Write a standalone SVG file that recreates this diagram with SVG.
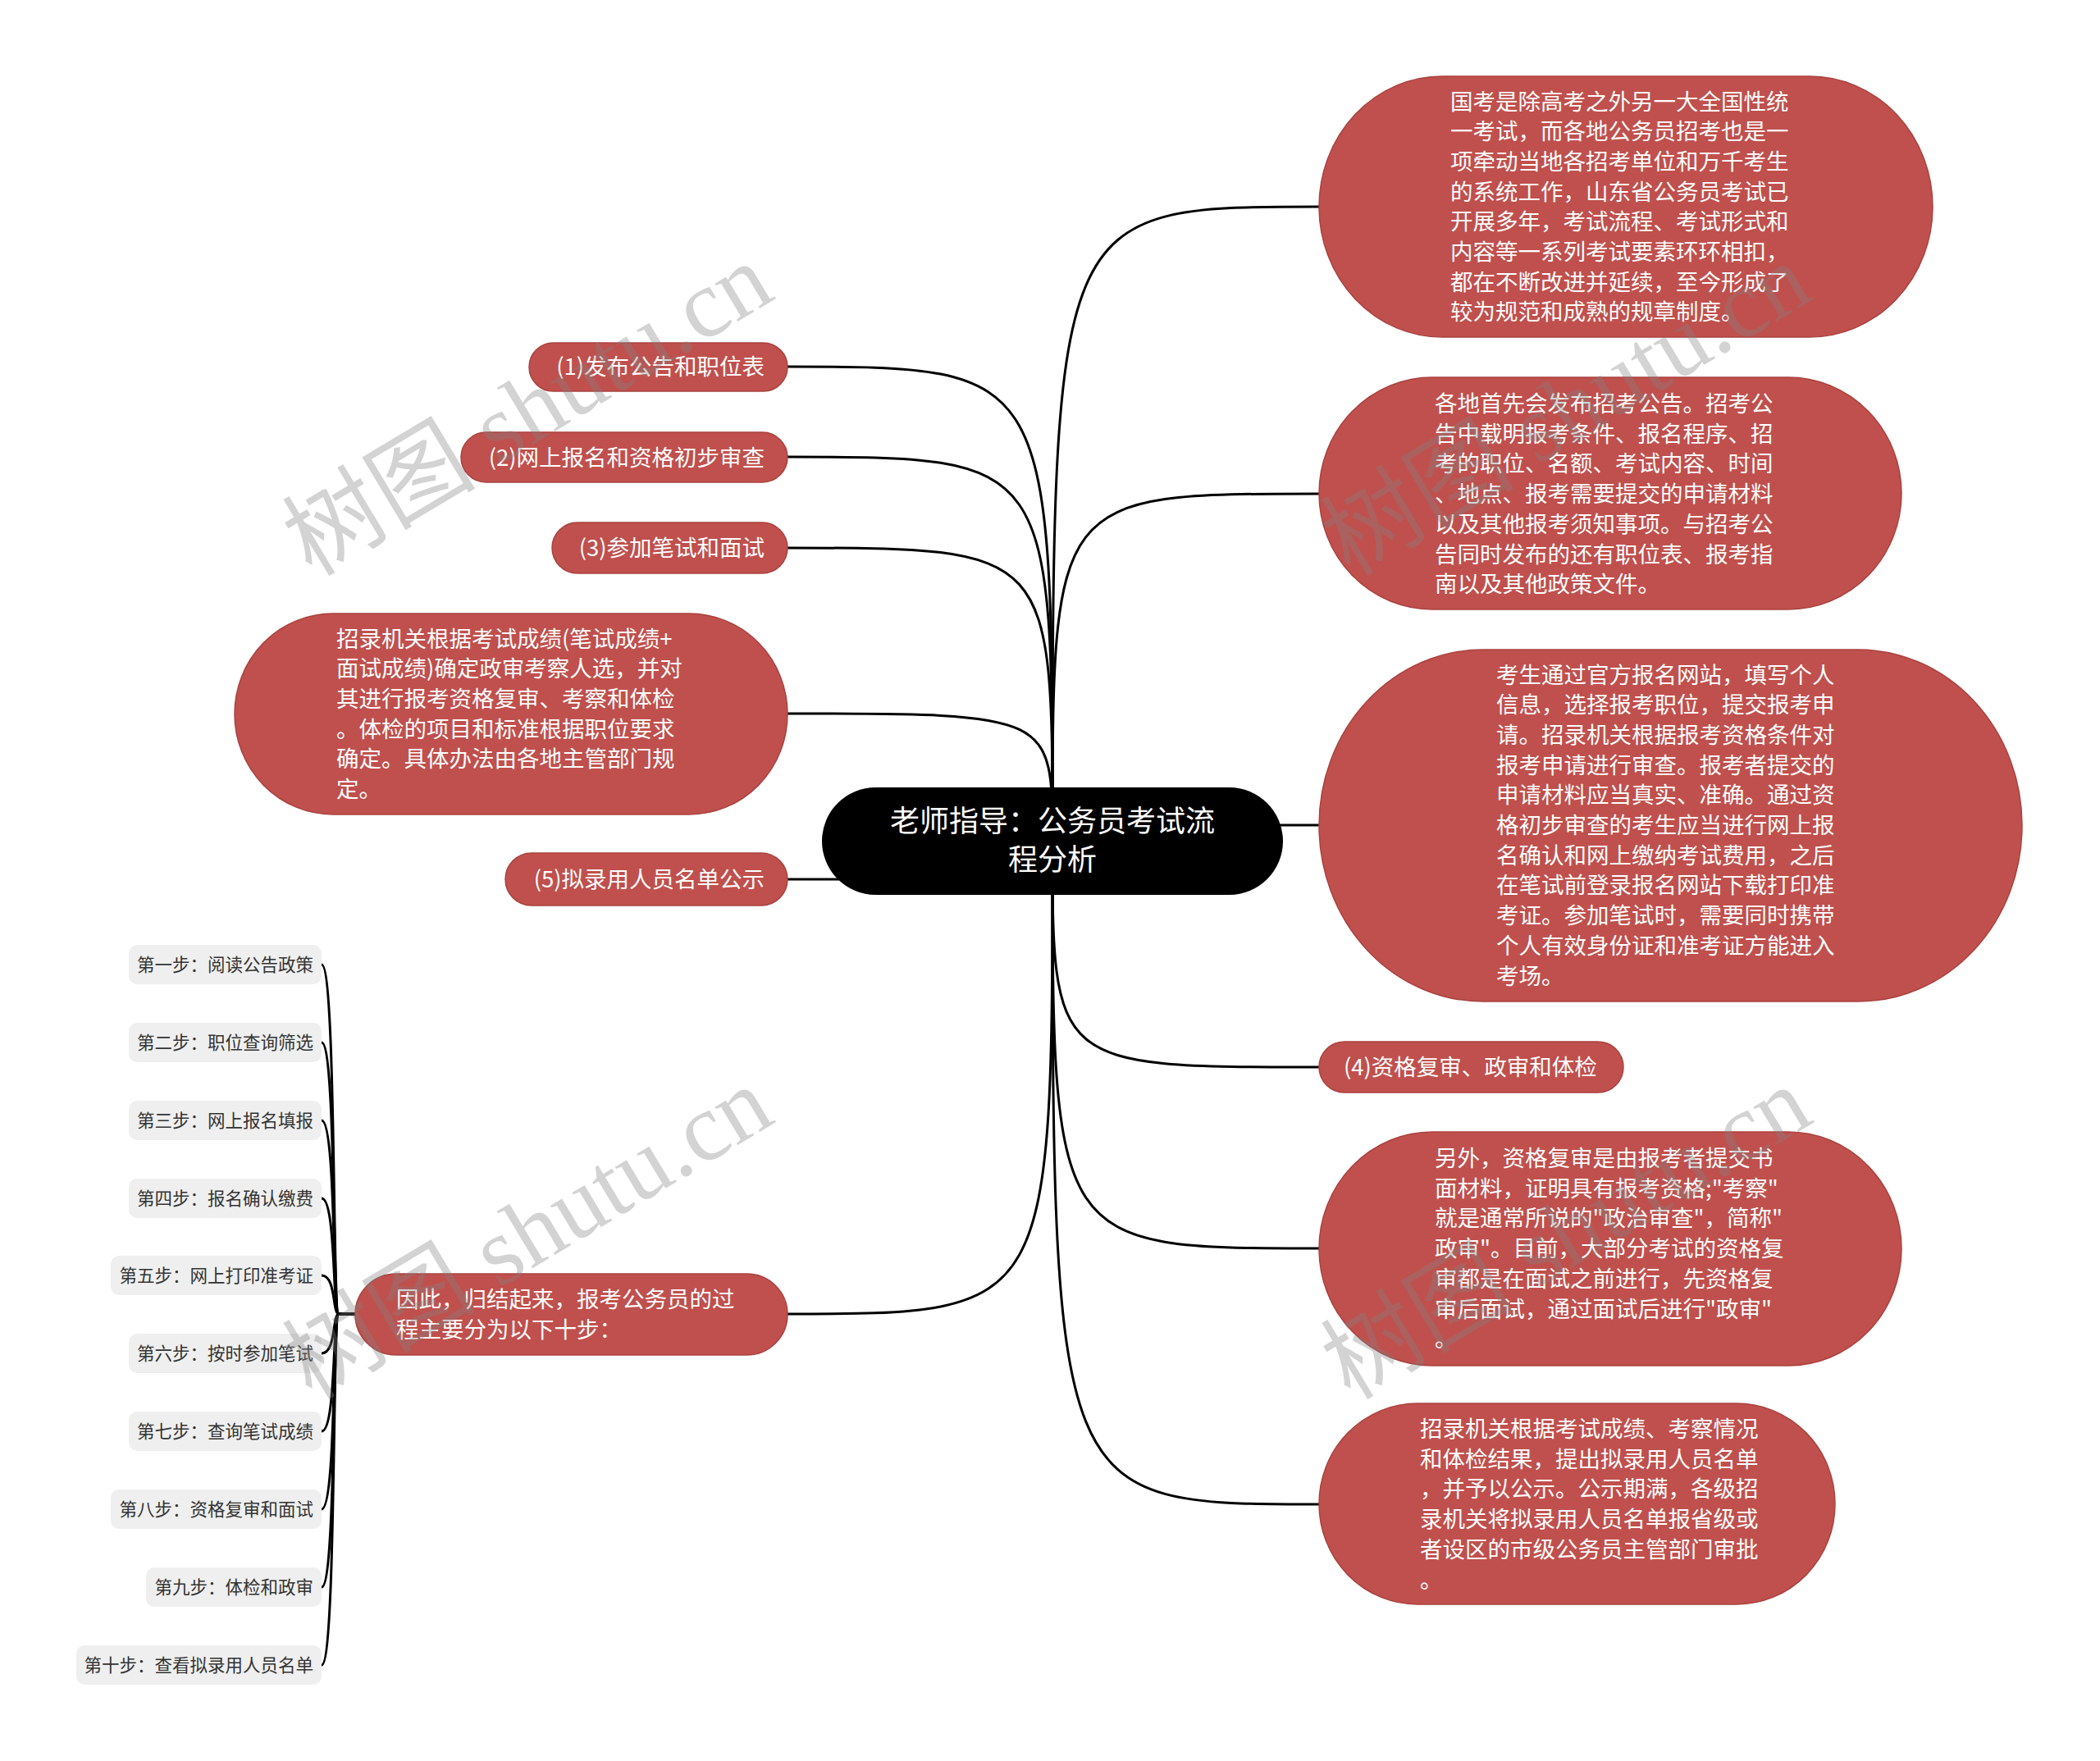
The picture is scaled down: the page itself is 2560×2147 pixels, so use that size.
<svg xmlns="http://www.w3.org/2000/svg" width="2560" height="2147" viewBox="0 0 2560 2147">
<style>
.bg{fill:#ffffff}
.c path{fill:none;stroke:#000;stroke-width:3}
.n rect{fill:#c0504d;stroke:#a9423f;stroke-width:1.5}
.t{font-family:"Noto Sans CJK SC","Noto Sans",sans-serif;font-size:27.5px;fill:#ffffff}
.root rect{fill:#000}
.rt{font-family:"Noto Sans CJK SC","Noto Sans",sans-serif;font-size:36px;fill:#ffffff;text-anchor:middle}
.s rect{fill:#efefef}
.st{font-family:"Noto Sans CJK SC","Noto Sans",sans-serif;font-size:21.5px;fill:#333;text-anchor:end}
.end{text-anchor:end}
.wm{font-family:"Liberation Serif","Noto Sans CJK SC",serif;font-size:118px;fill:#808080;fill-opacity:0.35}
</style>
<rect class="bg" x="0" y="0" width="2560" height="2147"/>

<g id="connectors" class="c">
<path d="M1283,1025 C1283,252 1283,252 1608,252"/>
<path d="M1283,1025 C1283,602 1283,602 1608,602"/>
<path d="M1283,1025 C1283,1006 1283,1006 1608,1006"/>
<path d="M1283,1025 C1283,1301 1283,1301 1608,1301"/>
<path d="M1283,1025 C1283,1522 1283,1522 1608,1522"/>
<path d="M1283,1025 C1283,1834 1283,1834 1608,1834"/>
<path d="M1283,1025 C1283,447 1283,447 960,447"/>
<path d="M1283,1025 C1283,557 1283,557 960,557"/>
<path d="M1283,1025 C1283,668 1283,668 960,668"/>
<path d="M1283,1025 C1283,870 1283,870 960,870"/>
<path d="M1283,1025 C1283,1072 1283,1072 960,1072"/>
<path d="M1283,1025 C1283,1602 1283,1602 960,1602"/>
<path d="M433,1602 L413,1602 C405,1602 410,1176 392,1176"/>
<path d="M433,1602 L413,1602 C405,1602 410,1271 392,1271"/>
<path d="M433,1602 L413,1602 C405,1602 410,1366 392,1366"/>
<path d="M433,1602 L413,1602 C405,1602 410,1461 392,1461"/>
<path d="M433,1602 L413,1602 C405,1602 410,1555 392,1555"/>
<path d="M433,1602 L413,1602 C405,1602 410,1650 392,1650"/>
<path d="M433,1602 L413,1602 C405,1602 410,1745 392,1745"/>
<path d="M433,1602 L413,1602 C405,1602 410,1840 392,1840"/>
<path d="M433,1602 L413,1602 C405,1602 410,1935 392,1935"/>
<path d="M433,1602 L413,1602 C405,1602 410,2030 392,2030"/>
</g>

<g id="root" class="root">
<rect x="1002" y="960" width="562" height="131" rx="65.5"/>
<text class="rt"><tspan x="1283" y="1014">老师指导：公务员考试流</tspan><tspan x="1283" y="1061">程分析</tspan></text>
</g>

<g id="r1" class="n">
<rect x="1608" y="93" width="748" height="318" rx="150" ry="159"/>
<text class="t" x="1768" y="133.5"><tspan x="1768">国考是除高考之外另一大全国性统</tspan><tspan x="1768" dy="36.7">一考试，而各地公务员招考也是一</tspan><tspan x="1768" dy="36.7">项牵动当地各招考单位和万千考生</tspan><tspan x="1768" dy="36.7">的系统工作，山东省公务员考试已</tspan><tspan x="1768" dy="36.7">开展多年，考试流程、考试形式和</tspan><tspan x="1768" dy="36.7">内容等一系列考试要素环环相扣，</tspan><tspan x="1768" dy="36.7">都在不断改进并延续，至今形成了</tspan><tspan x="1768" dy="36.7">较为规范和成熟的规章制度。</tspan></text>
</g>

<g id="r2" class="n">
<rect x="1608" y="460" width="710" height="283" rx="138" ry="141.5"/>
<text class="t" x="1749" y="502"><tspan x="1749">各地首先会发布招考公告。招考公</tspan><tspan x="1749" dy="36.7">告中载明报考条件、报名程序、招</tspan><tspan x="1749" dy="36.7">考的职位、名额、考试内容、时间</tspan><tspan x="1749" dy="36.7">、地点、报考需要提交的申请材料</tspan><tspan x="1749" dy="36.7">以及其他报考须知事项。与招考公</tspan><tspan x="1749" dy="36.7">告同时发布的还有职位表、报考指</tspan><tspan x="1749" dy="36.7">南以及其他政策文件。</tspan></text>
</g>

<g id="r3" class="n">
<rect x="1608" y="792" width="857" height="429" rx="200" ry="214.5"/>
<text class="t" x="1824" y="832.5"><tspan x="1824">考生通过官方报名网站，填写个人</tspan><tspan x="1824" dy="36.7">信息，选择报考职位，提交报考申</tspan><tspan x="1824" dy="36.7">请。招录机关根据报考资格条件对</tspan><tspan x="1824" dy="36.7">报考申请进行审查。报考者提交的</tspan><tspan x="1824" dy="36.7">申请材料应当真实、准确。通过资</tspan><tspan x="1824" dy="36.7">格初步审查的考生应当进行网上报</tspan><tspan x="1824" dy="36.7">名确认和网上缴纳考试费用，之后</tspan><tspan x="1824" dy="36.7">在笔试前登录报名网站下载打印准</tspan><tspan x="1824" dy="36.7">考证。参加笔试时，需要同时携带</tspan><tspan x="1824" dy="36.7">个人有效身份证和准考证方能进入</tspan><tspan x="1824" dy="36.7">考场。</tspan></text>
</g>

<g id="r4" class="n">
<rect x="1608" y="1270" width="371" height="62" rx="31"/>
<text class="t" x="1638" y="1311">(4)资格复审、政审和体检</text>
</g>

<g id="r5" class="n">
<rect x="1608" y="1380" width="710" height="285" rx="138" ry="142.5"/>
<text class="t" x="1749" y="1422"><tspan x="1749">另外，资格复审是由报考者提交书</tspan><tspan x="1749" dy="36.7">面材料，证明具有报考资格;"考察"</tspan><tspan x="1749" dy="36.7">就是通常所说的"政治审查"，简称"</tspan><tspan x="1749" dy="36.7">政审"。目前，大部分考试的资格复</tspan><tspan x="1749" dy="36.7">审都是在面试之前进行，先资格复</tspan><tspan x="1749" dy="36.7">审后面试，通过面试后进行"政审"</tspan><tspan x="1749" dy="36.7">。</tspan></text>
</g>

<g id="r6" class="n">
<rect x="1608" y="1711" width="629" height="245" rx="120" ry="122.5"/>
<text class="t" x="1731" y="1752"><tspan x="1731">招录机关根据考试成绩、考察情况</tspan><tspan x="1731" dy="36.7">和体检结果，提出拟录用人员名单</tspan><tspan x="1731" dy="36.7">，并予以公示。公示期满，各级招</tspan><tspan x="1731" dy="36.7">录机关将拟录用人员名单报省级或</tspan><tspan x="1731" dy="36.7">者设区的市级公务员主管部门审批</tspan><tspan x="1731" dy="36.7">。</tspan></text>
</g>

<g id="l1" class="n">
<rect x="645" y="418" width="315" height="59" rx="29.5"/>
<text class="t end" x="932" y="457">(1)发布公告和职位表</text>
</g>

<g id="l2" class="n">
<rect x="562" y="527" width="398" height="61" rx="30.5"/>
<text class="t end" x="932" y="567.5">(2)网上报名和资格初步审查</text>
</g>

<g id="l3" class="n">
<rect x="673" y="637" width="287" height="62" rx="31"/>
<text class="t end" x="932" y="678">(3)参加笔试和面试</text>
</g>

<g id="l4" class="n">
<rect x="286" y="748" width="674" height="245" rx="120" ry="122.5"/>
<text class="t" x="410" y="788.5"><tspan x="410">招录机关根据考试成绩(笔试成绩+</tspan><tspan x="410" dy="36.7">面试成绩)确定政审考察人选，并对</tspan><tspan x="410" dy="36.7">其进行报考资格复审、考察和体检</tspan><tspan x="410" dy="36.7">。体检的项目和标准根据职位要求</tspan><tspan x="410" dy="36.7">确定。具体办法由各地主管部门规</tspan><tspan x="410" dy="36.7">定。</tspan></text>
</g>

<g id="l5" class="n">
<rect x="616" y="1040" width="344" height="64" rx="32"/>
<text class="t end" x="932" y="1082">(5)拟录用人员名单公示</text>
</g>

<g id="l6" class="n">
<rect x="433" y="1553" width="527" height="99" rx="49.5"/>
<text class="t" x="483" y="1594"><tspan x="483">因此，归结起来，报考公务员的过</tspan><tspan x="483" dy="37">程主要分为以下十步：</tspan></text>
</g>

<g id="s1" class="s"><rect x="157" y="1152" width="235" height="48" rx="10"/><text class="st" x="382" y="1184">第一步：阅读公告政策</text></g>
<g id="s2" class="s"><rect x="157" y="1247" width="235" height="48" rx="10"/><text class="st" x="382" y="1279">第二步：职位查询筛选</text></g>
<g id="s3" class="s"><rect x="157" y="1342" width="235" height="48" rx="10"/><text class="st" x="382" y="1374">第三步：网上报名填报</text></g>
<g id="s4" class="s"><rect x="157" y="1437" width="235" height="48" rx="10"/><text class="st" x="382" y="1469">第四步：报名确认缴费</text></g>
<g id="s5" class="s"><rect x="135" y="1531" width="257" height="48" rx="10"/><text class="st" x="382" y="1563">第五步：网上打印准考证</text></g>
<g id="s6" class="s"><rect x="157" y="1626" width="235" height="48" rx="10"/><text class="st" x="382" y="1658">第六步：按时参加笔试</text></g>
<g id="s7" class="s"><rect x="157" y="1721" width="235" height="48" rx="10"/><text class="st" x="382" y="1753">第七步：查询笔试成绩</text></g>
<g id="s8" class="s"><rect x="135" y="1816" width="257" height="48" rx="10"/><text class="st" x="382" y="1848">第八步：资格复审和面试</text></g>
<g id="s9" class="s"><rect x="178" y="1911" width="214" height="48" rx="10"/><text class="st" x="382" y="1943">第九步：体检和政审</text></g>
<g id="s10" class="s"><rect x="93" y="2006" width="299" height="48" rx="10"/><text class="st" x="382" y="2038">第十步：查看拟录用人员名单</text></g>

<g id="watermarks" class="wm">
<text x="380" y="704" transform="rotate(-31 380 704)">树图 shutu.cn</text>
<text x="1646" y="704" transform="rotate(-31 1646 704)">树图 shutu.cn</text>
<text x="380" y="1708" transform="rotate(-31 380 1708)">树图 shutu.cn</text>
<text x="1646" y="1708" transform="rotate(-31 1646 1708)">树图 shutu.cn</text>
</g>
</svg>
